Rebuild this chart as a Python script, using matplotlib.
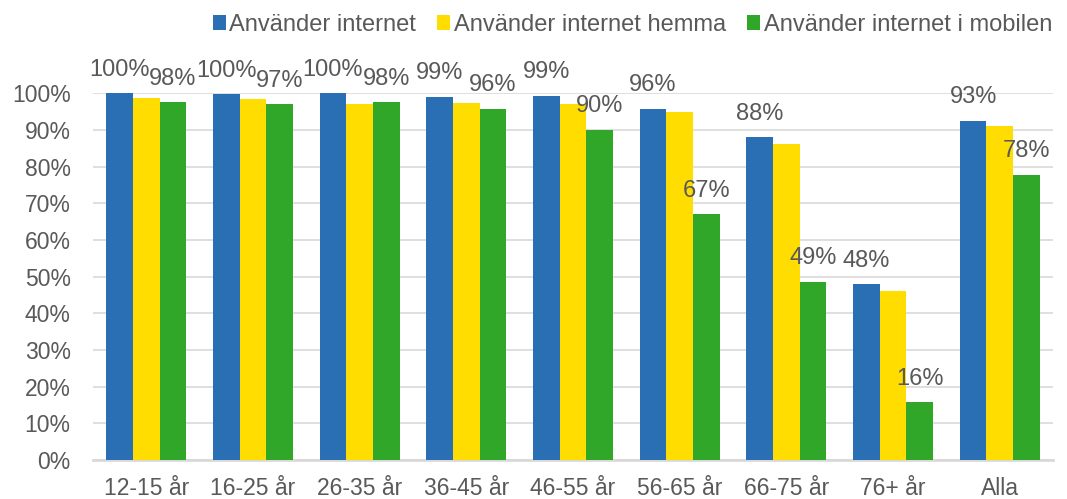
import matplotlib.pyplot as plt
import numpy as np

plt.rcParams['font.family'] = ['Liberation Sans', 'DejaVu Sans']

kategorier = ['12-15 år', '16-25 år', '26-35 år', '36-45 år', '46-55 år',
              '56-65 år', '66-75 år', '76+ år', 'Alla']
internet = [100, 99.8, 100, 99.0, 99.3, 95.8, 88.0, 48.0, 92.5]
hemma = [98.8, 98.5, 97.0, 97.3, 97.2, 94.8, 86.2, 46.0, 91.0]
mobil = [97.5, 97.0, 97.5, 95.8, 90.0, 67.0, 48.6, 15.8, 77.8]
etikett_internet = ['100%', '100%', '100%', '99%', '99%', '96%', '88%', '48%', '93%']
etikett_mobil = ['98%', '97%', '98%', '96%', '90%', '67%', '49%', '16%', '78%']
serier = ['Använder internet', 'Använder internet hemma', 'Använder internet i mobilen']

bla = '#2A6EB4'
gul = '#FFDD00'
gron = '#31A72A'
text_farg = '#595959'

fig, ax = plt.subplots(figsize=(10.67, 4.99), dpi=100)
fig.subplots_adjust(left=0.087, right=0.987, bottom=0.078, top=0.813)

x = np.arange(len(kategorier))
b = 0.25
s1 = ax.bar(x - b, internet, b, color=bla, label=serier[0], zorder=3)
s2 = ax.bar(x, hemma, b, color=gul, label=serier[1], zorder=3)
s3 = ax.bar(x + b, mobil, b, color=gron, label=serier[2], zorder=3)

ax.bar_label(s1, labels=etikett_internet, padding=9, fontsize=17, color=text_farg)
ax.bar_label(s3, labels=etikett_mobil, padding=9, fontsize=17, color=text_farg)

ax.set_ylim(0, 100)
ax.set_xlim(-0.5, len(kategorier) - 0.5)
ax.set_yticks(range(0, 101, 10))
ax.set_yticklabels([f'{v}%' for v in range(0, 101, 10)])
ax.set_xticks(x)
ax.set_xticklabels(kategorier)
ax.tick_params(axis='both', length=0, labelsize=16.5, colors=text_farg)
ax.tick_params(axis='y', pad=16)
ax.tick_params(axis='x', pad=12)

ax.yaxis.grid(True, color='#D9D9D9', linewidth=1.2, zorder=0)
ax.set_axisbelow(True)
for side in ['top', 'right', 'left']:
    ax.spines[side].set_visible(False)
ax.spines['bottom'].set_color('#D9D9D9')
ax.spines['bottom'].set_linewidth(2)

leg = fig.legend(handles=[s1, s2, s3], loc='upper right', bbox_to_anchor=(1.006, 1.015),
                 ncol=3, frameon=False, fontsize=17, handlelength=0.55, handleheight=0.55,
                 handletextpad=0.15, columnspacing=0.9)
for t in leg.get_texts():
    t.set_color(text_farg)

plt.savefig('out.png', dpi=100)
